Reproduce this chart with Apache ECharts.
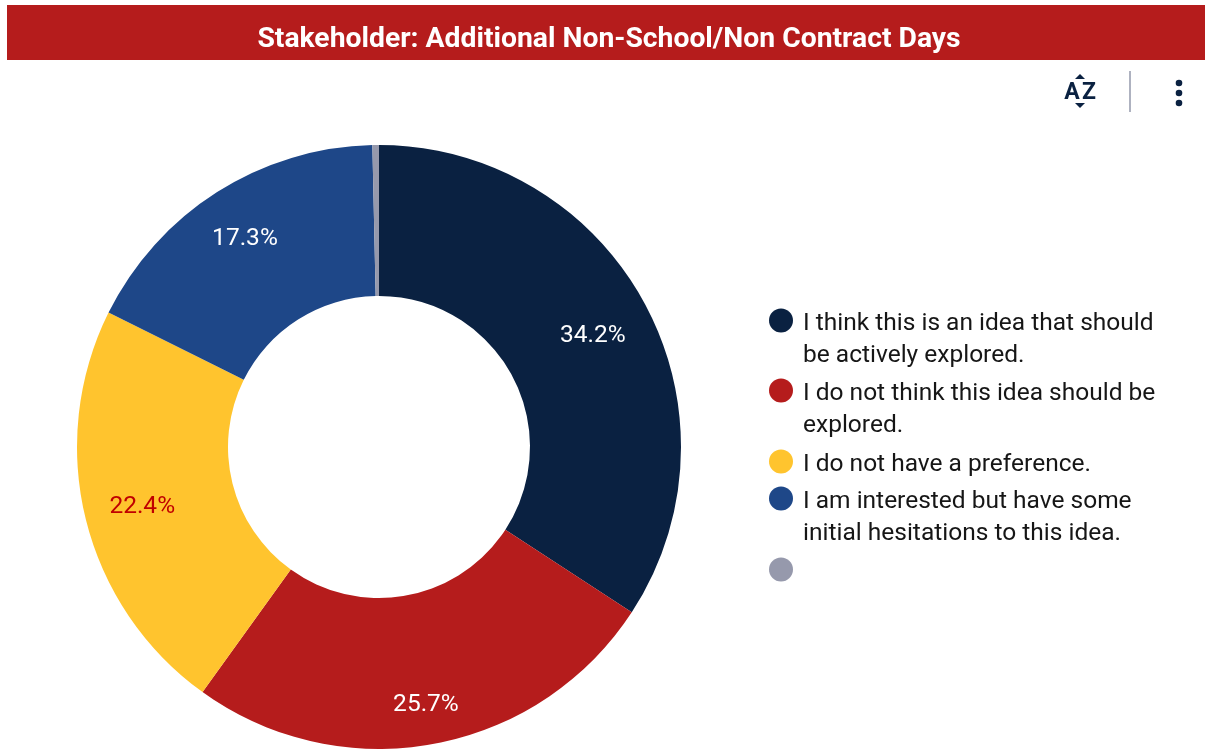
<!DOCTYPE html>
<html>
<head>
<meta charset="utf-8">
<style>
  html, body { margin: 0; padding: 0; background: #fff; }
  #chart { width: 1205px; height: 749px; }
</style>
<script src="https://cdn.jsdelivr.net/npm/echarts@6/dist/echarts.min.js"></script>
</head>
<body>
<div id="chart"></div>
<script>
var titleText = 'Stakeholder: Additional Non-School/Non Contract Days';
var categories = [
  'I think this is an idea that should be actively explored.',
  'I do not think this idea should be explored.',
  'I do not have a preference.',
  'I am interested but have some initial hesitations to this idea.',
  ' '
];
var legendLines = [
  ['I think this is an idea that should', 'be actively explored.'],
  ['I do not think this idea should be', 'explored.'],
  ['I do not have a preference.'],
  ['I am interested but have some', 'initial hesitations to this idea.'],
  [' ']
];
var values = [34.2, 25.7, 22.4, 17.3, 0.35];
var sliceColors = ['#0a2141', '#b51c1c', '#ffc42e', '#1e4788', '#9699ac'];
var labelColors = ['#ffffff', '#ffffff', '#c00000', '#ffffff', '#ffffff'];

var navy = '#0a2141';
var font = 'Roboto';
var legendCenters = [321, 391, 461, 499, 569];
var lineH = 32;
var dotDrop = 6; // text sits low against the dot, extra room above it
// labels sit further out than the middle of the ring, by hand from the picture
var labelShift = [[12, -2], [5, 32], [-14, 5], [-11, -14], [0, 0]];

var chart = echarts.init(document.getElementById('chart'));

// one legend per entry, the rows are not evenly spaced and the dot sits on the first line
var legends = categories.map(function (name, i) {
  var two = legendLines[i].length > 1;
  return {
    data: [name],
    orient: 'vertical',
    left: 769,
    top: legendCenters[i] - (two ? (lineH * 3 + dotDrop) / 2 - 6 : (lineH + dotDrop) / 2 - 4),
    padding: 0,
    icon: 'circle',
    itemWidth: 24,
    itemHeight: 24,
    itemGap: 0,
    selectedMode: false,
    formatter: function () {
      if (two) {
        return '{gap| }\n{t|' + legendLines[i][0] + '}\n{t|' + legendLines[i][1] + '}';
      }
      return '{one|' + legendLines[i][0] + '}';
    },
    textStyle: {
      fontFamily: font,
      fontSize: 24.5,
      color: '#161616',
      padding: [0, 0, 0, 5],
      rich: {
        gap: { fontFamily: font, fontSize: 24.5, lineHeight: lineH + dotDrop },
        t: { fontFamily: font, fontSize: 24.5, lineHeight: lineH, color: '#161616' },
        one: { fontFamily: font, fontSize: 24.5, lineHeight: lineH, color: '#161616', padding: [dotDrop, 0, 0, 0] }
      }
    }
  };
});

chart.setOption({
  animation: false,
  graphic: [
    { type: 'rect', shape: { x: 7, y: 5, width: 1198, height: 55 }, style: { fill: '#b51c1c' } },
    { type: 'text', x: 609, y: 40, style: { text: titleText, fill: '#fff', font: '700 28.3px Roboto', textAlign: 'center', textVerticalAlign: 'middle' } },
    // sort icon
    { type: 'text', x: 1072, y: 93, style: { text: 'A', fill: navy, font: '700 23px Roboto', textAlign: 'center', textVerticalAlign: 'middle' } },
    { type: 'text', x: 1089, y: 93, style: { text: 'Z', fill: navy, font: '700 23px Roboto', textAlign: 'center', textVerticalAlign: 'middle' } },
    { type: 'polygon', shape: { points: [[1075, 79], [1085, 79], [1080, 74]] }, style: { fill: navy } },
    { type: 'polygon', shape: { points: [[1075, 103], [1085, 103], [1080, 108]] }, style: { fill: navy } },
    { type: 'rect', shape: { x: 1129, y: 71, width: 2, height: 41 }, style: { fill: '#aeb2c0' } },
    { type: 'circle', shape: { cx: 1179, cy: 83, r: 3.3 }, style: { fill: navy } },
    { type: 'circle', shape: { cx: 1179, cy: 93, r: 3.3 }, style: { fill: navy } },
    { type: 'circle', shape: { cx: 1179, cy: 103, r: 3.3 }, style: { fill: navy } }
  ],
  legend: legends,
  series: [{
    type: 'pie',
    center: [379, 447],
    radius: [151, 302],
    startAngle: 90,
    clockwise: true,
    avoidLabelOverlap: false,
    silent: true,
    label: {
      show: true,
      position: 'inside',
      fontFamily: font,
      fontSize: 24.5,
      formatter: function (p) { return p.value.toFixed(1) + '%'; }
    },
    labelLayout: function (p) {
      return { dx: labelShift[p.dataIndex][0], dy: labelShift[p.dataIndex][1] };
    },
    data: categories.map(function (name, i) {
      return {
        name: name,
        value: values[i],
        itemStyle: { color: sliceColors[i] },
        label: { show: values[i] > 1, color: labelColors[i] }
      };
    })
  }]
});
</script>
</body>
</html>
